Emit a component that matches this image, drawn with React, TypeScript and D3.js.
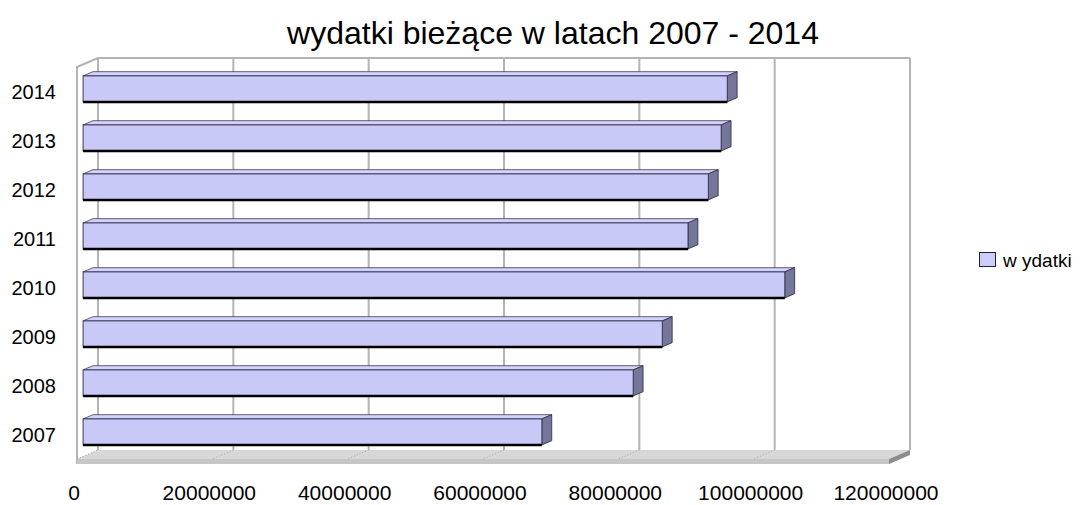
import React from "react";
import * as d3 from "d3";

// wydatki bieżące (PLN) per year
const years = ["2007", "2008", "2009", "2010", "2011", "2012", "2013", "2014"];
const wydatki = [67800000, 81300000, 85600000, 103700000, 89400000, 92400000, 94300000, 95200000];
const xTicks = [0, 20000000, 40000000, 60000000, 80000000, 100000000, 120000000];

const W = 1082;
const H = 505;

// front plane of the 3d box
const FX = 77;
const FY_TOP = 67;
const FY_BOT = 459;
const DX = 21; // depth offset
const DY = -9;
const T1 = 0.29; // bar front depth
const T2 = 0.76; // bar back depth

const App = () => {
  const x = d3.scaleLinear().domain([0, 120000000]).range([0, 812]);
  const y = d3
    .scaleBand<string>()
    .domain([...years].reverse())
    .range([FY_TOP, FY_BOT])
    .paddingInner(0.47)
    .paddingOuter(0.235);

  const p = (xv: number, yv: number, t: number) => [FX + xv + t * DX, yv + t * DY];
  const pts = (arr: number[][]) => arr.map((a) => a.join(",")).join(" ");

  const xMax = x(120000000);

  return (
    <svg width={W} height={H} style={{ position: "absolute", left: 0, top: 0 }} fontFamily="'Liberation Sans', Arial, sans-serif">
      <rect width={W} height={H} fill="#fff" />

      {/* title */}
      <text x={553} y={44} textAnchor="middle" fontSize={32} fill="#000">
        wydatki bieżące w latach 2007 - 2014
      </text>

      {/* left wall */}
      <polyline
        points={pts([p(0, FY_BOT + 5, 0), p(0, FY_TOP, 0), p(0, FY_TOP, 1)])}
        fill="none"
        stroke="#b4b4b4"
        strokeWidth={2}
      />
      {/* back wall top */}
      <line x1={p(0, FY_TOP, 1)[0]} y1={p(0, FY_TOP, 1)[1]} x2={p(xMax, FY_TOP, 1)[0]} y2={p(xMax, FY_TOP, 1)[1]} stroke="#b4b4b4" strokeWidth={2} />

      {/* floor */}
      <polygon points={pts([p(0, FY_BOT, 0), p(xMax, FY_BOT, 0), p(xMax, FY_BOT, 1), p(0, FY_BOT, 1)])} fill="#d7d7d7" />
      <rect x={FX} y={FY_BOT} width={xMax} height={5} fill="#c6c6c6" />
      <polygon
        points={pts([p(xMax, FY_BOT, 0), p(xMax, FY_BOT, 1), p(xMax, FY_BOT + 5, 1), p(xMax, FY_BOT + 5, 0)])}
        fill="#8c8c8c"
      />
      <line x1={p(0, FY_BOT, 0)[0]} y1={p(0, FY_BOT, 0)[1]} x2={p(0, FY_BOT, 1)[0]} y2={p(0, FY_BOT, 1)[1]} stroke="#9a9a9a" strokeDasharray="1,2" />

      {/* gridlines on back wall and floor */}
      {xTicks.map((t) => (
        <g key={t}>
          <line
            x1={p(x(t), FY_TOP, 1)[0]}
            y1={p(x(t), FY_TOP, 1)[1]}
            x2={p(x(t), FY_BOT, 1)[0]}
            y2={p(x(t), FY_BOT, 1)[1]}
            stroke="#b4b4b4"
            strokeWidth={2}
          />
          {t > 0 && t < 120000000 && (
            <line
              x1={p(x(t), FY_BOT, 1)[0]}
              y1={p(x(t), FY_BOT, 1)[1]}
              x2={p(x(t), FY_BOT, 0)[0]}
              y2={p(x(t), FY_BOT, 0)[1]}
              stroke="#a8a8a8"
              strokeDasharray="1,2"
            />
          )}
        </g>
      ))}

      {/* bars */}
      {years.map((yr, i) => {
        const y0 = y(yr)!;
        const y1 = y0 + y.bandwidth();
        const w = x(wydatki[i]);
        const f0 = p(0, y0, T1);
        const f1 = p(w, y1, T1);
        return (
          <g key={yr}>
            <polygon points={pts([p(0, y0, T1), p(w, y0, T1), p(w, y0, T2), p(0, y0, T2)])} fill="#d2d2fc" stroke="#3a3a55" strokeWidth={0.8} />
            <polygon points={pts([p(w, y0, T1), p(w, y0, T2), p(w, y1, T2), p(w, y1, T1)])} fill="#76769a" stroke="#2a2a40" strokeWidth={0.8} />
            <rect x={f0[0]} y={f0[1]} width={f1[0] - f0[0]} height={f1[1] - f0[1]} fill="#c9c9f8" stroke="#3a3a55" strokeWidth={1} />
            <line x1={f0[0]} y1={f1[1]} x2={f1[0]} y2={f1[1]} stroke="#000" strokeWidth={2.5} />
          </g>
        );
      })}

      {/* category labels */}
      {years.map((yr) => (
        <text key={yr} x={56} y={y(yr)! + y.bandwidth() / 2 + 7} textAnchor="end" fontSize={20} fill="#000">
          {yr}
        </text>
      ))}

      {/* value labels */}
      {xTicks.map((t) => (
        <text key={t} x={FX - 3 + x(t)} y={500} textAnchor="middle" fontSize={21} fill="#000">
          {t}
        </text>
      ))}

      {/* legend */}
      <rect x={979.5} y={252.5} width={16} height={14} fill="#ccccff" stroke="#222" strokeWidth={1} />
      <text x={1003} y={267} fontSize={19} fill="#000">
        w ydatki
      </text>
    </svg>
  );
};

export default App;
